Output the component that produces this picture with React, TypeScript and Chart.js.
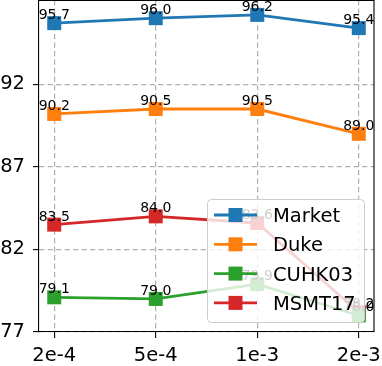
import React, { useEffect, useRef } from "react";
import { Chart, registerables } from "chart.js";

Chart.register(...registerables);

const categories = ["2e-4", "5e-4", "1e-3", "2e-3"];
const seriesNames = ["Market", "Duke", "CUHK03", "MSMT17"];
const marketValues = [95.7, 96.0, 96.2, 95.4];
const dukeValues = [90.2, 90.5, 90.5, 89.0];
const cuhk03Values = [79.1, 79.0, 79.9, 78.0];
const msmt17Values = [83.5, 84.0, 83.6, 78.2];
const yTickValues = [77, 82, 87, 92];

const seriesValues = [marketValues, dukeValues, cuhk03Values, msmt17Values];
const colors = ["#1f77b4", "#ff7f0e", "#2ca02c", "#d62728"];
const FONT = "'DejaVu Sans', sans-serif";

const valueLabels = {
  id: "valueLabels",
  afterDatasetsDraw(chart: any) {
    const ctx = chart.ctx;
    ctx.save();
    ctx.font = `14px ${FONT}`;
    ctx.fillStyle = "#000";
    ctx.textAlign = "center";
    ctx.textBaseline = "alphabetic";
    chart.data.datasets.forEach((ds: any, i: number) => {
      const meta = chart.getDatasetMeta(i);
      meta.data.forEach((el: any, j: number) => {
        const v = ds.data[j].y;
        ctx.fillText(v.toFixed(1), el.x, el.y - 4);
      });
    });
    ctx.restore();
  },
};

const frameAndLegend = {
  id: "frameAndLegend",
  afterDraw(chart: any) {
    const ctx = chart.ctx;
    const a = chart.chartArea;
    ctx.save();
    ctx.strokeStyle = "#000";
    ctx.lineWidth = 1.1;
    ctx.beginPath();
    ctx.moveTo(a.left, a.top + 0.5);
    ctx.lineTo(a.right, a.top + 0.5);
    ctx.moveTo(a.right, a.top);
    ctx.lineTo(a.right, a.bottom);
    ctx.stroke();

    const lx = 207.5, ly = 199.5, lw = 157, lh = 123, r = 4;
    ctx.beginPath();
    ctx.moveTo(lx + r, ly);
    ctx.lineTo(lx + lw - r, ly);
    ctx.quadraticCurveTo(lx + lw, ly, lx + lw, ly + r);
    ctx.lineTo(lx + lw, ly + lh - r);
    ctx.quadraticCurveTo(lx + lw, ly + lh, lx + lw - r, ly + lh);
    ctx.lineTo(lx + r, ly + lh);
    ctx.quadraticCurveTo(lx, ly + lh, lx, ly + lh - r);
    ctx.lineTo(lx, ly + r);
    ctx.quadraticCurveTo(lx, ly, lx + r, ly);
    ctx.closePath();
    ctx.fillStyle = "rgba(255,255,255,0.8)";
    ctx.fill();
    ctx.strokeStyle = "#cccccc";
    ctx.lineWidth = 1;
    ctx.stroke();

    ctx.font = `19.5px ${FONT}`;
    ctx.textAlign = "left";
    ctx.textBaseline = "alphabetic";
    seriesNames.forEach((name, i) => {
      const cy = 215 + i * 29.3;
      ctx.strokeStyle = colors[i];
      ctx.lineWidth = 2.8;
      ctx.beginPath();
      ctx.moveTo(214, cy);
      ctx.lineTo(257, cy);
      ctx.stroke();
      ctx.fillStyle = colors[i];
      ctx.fillRect(235.5 - 7, cy - 7, 14, 14);
      ctx.fillStyle = "#000";
      ctx.fillText(name, 273, cy + 7);
    });
    ctx.restore();
  },
};

const gridOpts = {
  color: "#b0b0b0",
  lineWidth: 1.2,
  tickLength: 6,
  tickColor: "#000",
  tickWidth: 1.1,
  tickBorderDash: [],
} as any;

export default function App() {
  const ref = useRef<HTMLCanvasElement | null>(null);
  useEffect(() => {
    if (!ref.current) return;
    const chart = new Chart(ref.current, {
      type: "line",
      data: {
        datasets: seriesNames.map((name, i) => ({
          label: name,
          data: seriesValues[i].map((v, j) => ({ x: j, y: v })),
          borderColor: colors[i],
          backgroundColor: colors[i],
          borderWidth: 2.8,
          pointStyle: "rect",
          pointRadius: 9.9,
          pointHoverRadius: 9.9,
          pointBorderWidth: 0,
          pointBackgroundColor: colors[i],
          tension: 0,
          clip: false as any,
        })),
      },
      options: {
        animation: false,
        responsive: false,
        devicePixelRatio: 1,
        layout: { autoPadding: false, padding: { left: 0, right: 8, top: 0, bottom: 0 } },
        plugins: { legend: { display: false }, tooltip: { enabled: false } },
        scales: {
          x: {
            type: "linear",
            min: -0.15,
            max: 3.15,
            afterBuildTicks: (s: any) => {
              s.ticks = categories.map((_, i) => ({ value: i }));
            },
            afterFit: (s: any) => {
              s.height = 34;
              s.paddingLeft = 0;
              s.paddingRight = 0;
              s.paddingTop = 0;
              s.paddingBottom = 0;
            },
            ticks: {
              autoSkip: false,
              maxRotation: 0,
              padding: 6.5,
              color: "#000",
              font: { family: FONT, size: 19.5 },
              callback: (v: any) => categories[v] ?? "",
            },
            grid: gridOpts,
            border: { display: true, color: "#000", width: 1.1, dash: [5.2, 3.3] } as any,
          },
          y: {
            type: "linear",
            min: 77,
            max: 97.1,
            afterBuildTicks: (s: any) => {
              s.ticks = yTickValues.map((v) => ({ value: v }));
            },
            afterFit: (s: any) => {
              s.width = 39;
              s.paddingLeft = 0;
              s.paddingRight = 0;
              s.paddingTop = 0;
              s.paddingBottom = 0;
            },
            ticks: {
              padding: 8,
              color: "#000",
              font: { family: FONT, size: 19.5 },
              callback: (v: any) => String(v),
            },
            grid: gridOpts,
            border: { display: true, color: "#000", width: 1.1, dash: [5.2, 3.3] } as any,
          },
        },
      },
      plugins: [valueLabels, frameAndLegend],
    } as any);
    return () => chart.destroy();
  }, []);
  return (
    <div style={{ position: "fixed", left: 0, top: 0, width: 382, height: 366, background: "#fff" }}>
      <canvas ref={ref} width={382} height={366} style={{ display: "block" }} />
    </div>
  );
}
